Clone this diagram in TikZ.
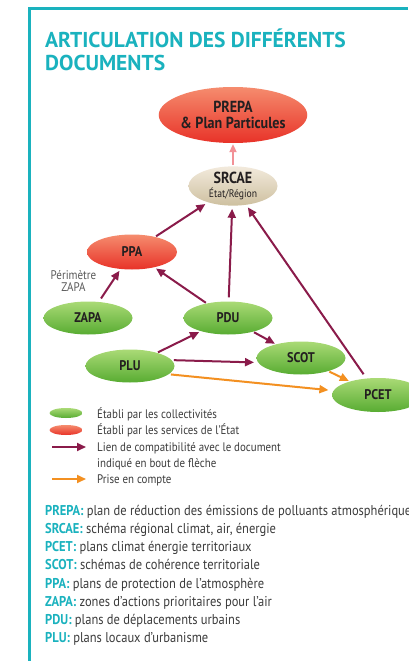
\documentclass[tikz,border=0pt]{standalone}
\usepackage{fontspec}
\setmainfont{PT Sans}[FakeStretch=0.88]
\newfontfamily\titlefont{PT Sans}
\usetikzlibrary{shapes.geometric,arrows.meta}
\definecolor{teal}{RGB}{26,178,190}
\definecolor{maroon}{RGB}{138,27,74}
\definecolor{orng}{RGB}{243,144,33}
\definecolor{pinkarr}{RGB}{242,145,150}
\definecolor{redtop}{RGB}{245,140,110}
\definecolor{redbot}{RGB}{232,50,40}
\definecolor{greentop}{RGB}{170,218,118}
\definecolor{greenbot}{RGB}{88,172,50}
\definecolor{beigetop}{RGB}{242,234,220}
\definecolor{beigebot}{RGB}{206,192,160}
\definecolor{ink}{RGB}{35,31,32}
\definecolor{grayt}{RGB}{90,90,90}
\definecolor{deftext}{RGB}{60,60,60}
\tikzset{
  ell/.style={ellipse, inner sep=0pt, text=ink, font=\fontsize{14}{15}\selectfont\bfseries},
  greenell/.style={ell, top color=greentop, bottom color=greenbot, minimum width=89pt, minimum height=33pt},
  redell/.style={ell, top color=redtop, bottom color=redbot},
  beigeell/.style={ell, top color=beigetop, bottom color=beigebot},
  arr/.style={draw=maroon, line width=2pt, -{Triangle[length=9pt,width=8pt]}},
  oarr/.style={draw=orng, line width=2pt, -{Triangle[length=9pt,width=8pt]}},
  parr/.style={draw=pinkarr, line width=2pt, -{Triangle[length=8pt,width=7pt]}},
  legtext/.style={anchor=base west, inner sep=0pt, text=deftext, font=\fontsize{12.4}{13}\selectfont},
  deftxt/.style={anchor=base west, inner sep=0pt, text=deftext, font=\fontsize{14.2}{16}\selectfont},
}
\newcommand{\dterm}[1]{{\color{teal}\bfseries #1}}
\begin{document}
\begin{tikzpicture}[x=1pt,y=-1pt]
\useasboundingbox (0,0) rectangle (408,661);
\fill[white] (0,0) rectangle (408,661);
% frame
\draw[teal, line width=3pt] (29.5,661) -- (29.5,8.5) -- (408,8.5);
% title
\node[anchor=base west, inner sep=0pt, text=teal, align=left,
  font=\titlefont\fontsize{21.5}{23.5}\selectfont\bfseries] (title) at (45,70.5)
  {ARTICULATION DES DIFFÉRENTS\\DOCUMENTS};
% nodes
\node[redell, minimum width=147pt, minimum height=56pt, align=center,
  font=\fontsize{16}{15.5}\selectfont\bfseries] (prepa) at (233,115) {PREPA\\\& Plan Particules};
\node[beigeell, minimum width=89pt, minimum height=33pt, align=center] (srcae) at (233,186)
  {{\fontsize{16}{12}\selectfont SRCAE}\\[-1pt]{\fontsize{11}{11}\selectfont\mdseries État/Région}};
\node[redell, minimum width=90pt, minimum height=35pt] (ppa) at (132,252) {PPA};
\node[greenell] (zapa) at (88,318) {ZAPA};
\node[greenell] (pdu) at (228,318) {PDU};
\node[greenell] (plu) at (130,366) {PLU};
\node[greenell] (scot) at (301,358) {SCOT};
\node[greenell, minimum width=92pt, minimum height=34pt] (pcet) at (378,395) {PCET};
\node[text=grayt, align=center, inner sep=0pt, font=\fontsize{12.5}{12.5}\selectfont] (perim) at (73.5,281) {Périmètre\\ZAPA};
% connectors
\draw[parr, shorten <=1pt, shorten >=1pt] (srcae) -- (prepa);
\draw[arr, shorten <=1pt, shorten >=3pt] (ppa) -- (srcae);
\draw[arr, shorten <=4pt, shorten >=3pt] (pdu) -- (srcae);
\draw[arr, shorten <=5pt, shorten >=3pt] (pcet) -- (srcae);
\draw[arr, shorten <=4pt, shorten >=2pt] (zapa) -- (ppa);
\draw[arr, shorten <=1pt, shorten >=2pt] (pdu) -- (ppa);
\draw[arr, shorten <=1pt, shorten >=2pt] (plu) -- (pdu);
\draw[arr, shorten <=1pt, shorten >=1pt] (pdu) -- (scot);
\draw[arr, shorten <=2pt, shorten >=4pt] (plu.8) -- (scot.186);
\draw[oarr, shorten <=2pt, shorten >=5pt] (plu.-12) -- (pcet);
\draw[oarr, shorten <=1pt, shorten >=1pt] (scot) -- (pcet);
% legend
\node[ell, top color=greentop, bottom color=greenbot, minimum width=33pt, minimum height=10pt] (lg) at (66,413) {};
\node[ell, top color=redtop, bottom color=redbot, minimum width=33pt, minimum height=10pt] (lr) at (66,430) {};
\coordinate (lma) at (52,447);
\coordinate (lmb) at (86,447);
\coordinate (loa) at (52,479);
\coordinate (lob) at (86,479);
\draw[arr] (lma) -- (lmb);
\draw[oarr] (loa) -- (lob);
\node[legtext] (t1) at (97,418) {Établi par les collectivités};
\node[legtext] (t2) at (97,434.5) {Établi par les services de l’État};
\node[legtext] (t3) at (97,451) {Lien de compatibilité avec le document};
\node[legtext] (t4) at (97,467) {indiqué en bout de flèche};
\node[legtext] (t5) at (97,483) {Prise en compte};
% definitions
\node[deftxt] (d1) at (45,515) {\dterm{PREPA:} plan de réduction des émissions de polluants atmosphériques};
\node[deftxt] (d2) at (45,533.3) {\dterm{SRCAE:} schéma régional climat, air, énergie};
\node[deftxt] (d3) at (45,551.5) {\dterm{PCET:} plans climat énergie territoriaux};
\node[deftxt] (d4) at (45,569.8) {\dterm{SCOT:} schémas de cohérence territoriale};
\node[deftxt] (d5) at (45,588) {\dterm{PPA:} plans de protection de l’atmosphère};
\node[deftxt] (d6) at (45,606.3) {\dterm{ZAPA:} zones d’actions prioritaires pour l’air};
\node[deftxt] (d7) at (45,624.5) {\dterm{PDU:} plans de déplacements urbains};
\node[deftxt] (d8) at (45,642.8) {\dterm{PLU:} plans locaux d’urbanisme};
\end{tikzpicture}
\end{document}
